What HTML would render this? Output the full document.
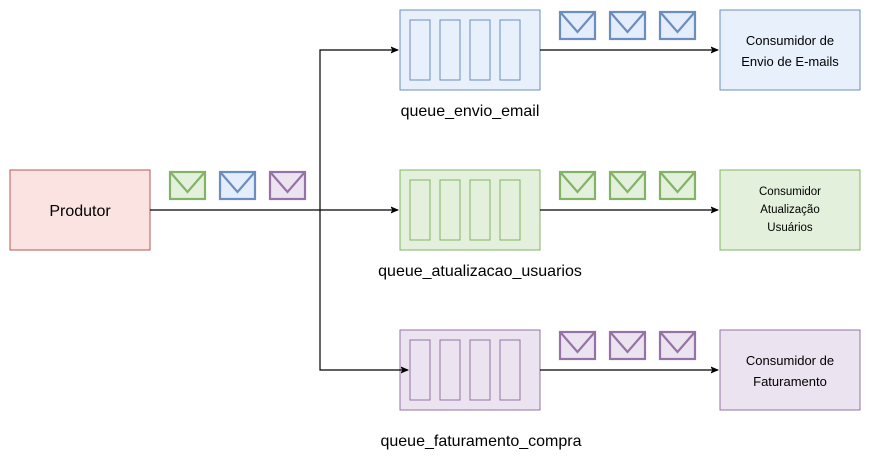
<!DOCTYPE html>
<html><head><meta charset="utf-8"><style>
html,body{margin:0;padding:0;background:#fff;}
svg{display:block;}
text{font-family:"Liberation Sans",sans-serif;fill:#000;}
</style></head><body>
<svg width="871" height="471" viewBox="0 0 871 471" xmlns="http://www.w3.org/2000/svg">
<defs>
<marker id="a" markerWidth="8" markerHeight="8" refX="7" refY="4" orient="auto" markerUnits="userSpaceOnUse">
<path d="M0,1 L7,4 L0,7 L2,4 Z" fill="#000" stroke="#000" stroke-width="0.8"/></marker>
<g id="env"><rect x="0" y="0" width="35" height="27" stroke-width="2.2"/><path d="M1,1 L17.5,20 L34,1" fill="none" stroke-width="2.2"/></g>
<g id="q"><rect x="0" y="0" width="140" height="80"/>
<rect x="10" y="10" width="20" height="60"/><rect x="40" y="10" width="20" height="60"/><rect x="70" y="10" width="20" height="60"/><rect x="100" y="10" width="20" height="60"/></g>
</defs>
<!-- producer -->
<rect x="10" y="170" width="140" height="80" fill="#fbe3e2" stroke="#b85450"/>
<text x="80" y="216" font-size="16" text-anchor="middle">Produtor</text>
<g fill="#e3f0db" stroke="#82b366" transform="translate(170,172)"><use href="#env"/></g>
<g fill="#e3edfc" stroke="#6c8ebf" transform="translate(220,172)"><use href="#env"/></g>
<g fill="#ece3f0" stroke="#9673a6" transform="translate(270,172)"><use href="#env"/></g>
<!-- queues -->
<g fill="#e8f0fc" stroke="#6c8ebf" transform="translate(400,10)"><use href="#q"/></g>
<g fill="#e3f0db" stroke="#82b366" transform="translate(400,170)"><use href="#q"/></g>
<g fill="#ece3f0" stroke="#9673a6" transform="translate(400,330)"><use href="#q"/></g>
<!-- connectors -->
<g stroke="#000" stroke-width="1.2" fill="none">
<path d="M150,210 L320,210"/>
<path d="M320,210 L320,50 L398,50" marker-end="url(#a)"/>
<path d="M320,210 L398,210" marker-end="url(#a)"/>
<path d="M320,210 L320,370 L408,370" marker-end="url(#a)"/>
<path d="M540,50 L718,50" marker-end="url(#a)"/>
<path d="M540,210 L718,210" marker-end="url(#a)"/>
<path d="M540,370 L718,370" marker-end="url(#a)"/>
</g>
<!-- envelopes -->
<g fill="#e3edfc" stroke="#6c8ebf"><use href="#env" x="560" y="12"/><use href="#env" x="610" y="12"/><use href="#env" x="660" y="12"/></g>
<g fill="#e3f0db" stroke="#82b366"><use href="#env" x="560" y="172"/><use href="#env" x="610" y="172"/><use href="#env" x="660" y="172"/></g>
<g fill="#ece3f0" stroke="#9673a6"><use href="#env" x="560" y="332"/><use href="#env" x="610" y="332"/><use href="#env" x="660" y="332"/></g>
<!-- consumers -->
<rect x="720" y="10" width="140" height="80" fill="#e8f0fc" stroke="#6c8ebf"/>
<text x="790" y="45" font-size="13" text-anchor="middle">Consumidor de</text>
<text x="790" y="66" font-size="13" text-anchor="middle">Envio de E-mails</text>
<rect x="720" y="170" width="140" height="80" fill="#e3f0db" stroke="#82b366"/>
<text x="790" y="195" font-size="11.5" text-anchor="middle">Consumidor</text>
<text x="790" y="213" font-size="11.5" text-anchor="middle">Atualização</text>
<text x="790" y="231" font-size="11.5" text-anchor="middle">Usuários</text>
<rect x="720" y="330" width="140" height="80" fill="#ece3f0" stroke="#9673a6"/>
<text x="790" y="365" font-size="13" text-anchor="middle">Consumidor de</text>
<text x="790" y="386" font-size="13" text-anchor="middle">Faturamento</text>
<!-- labels -->
<text x="470" y="116" font-size="16" text-anchor="middle">queue_envio_email</text>
<text x="480" y="276" font-size="16" text-anchor="middle">queue_atualizacao_usuarios</text>
<text x="481" y="446" font-size="16" text-anchor="middle">queue_faturamento_compra</text>
</svg>
</body></html>
